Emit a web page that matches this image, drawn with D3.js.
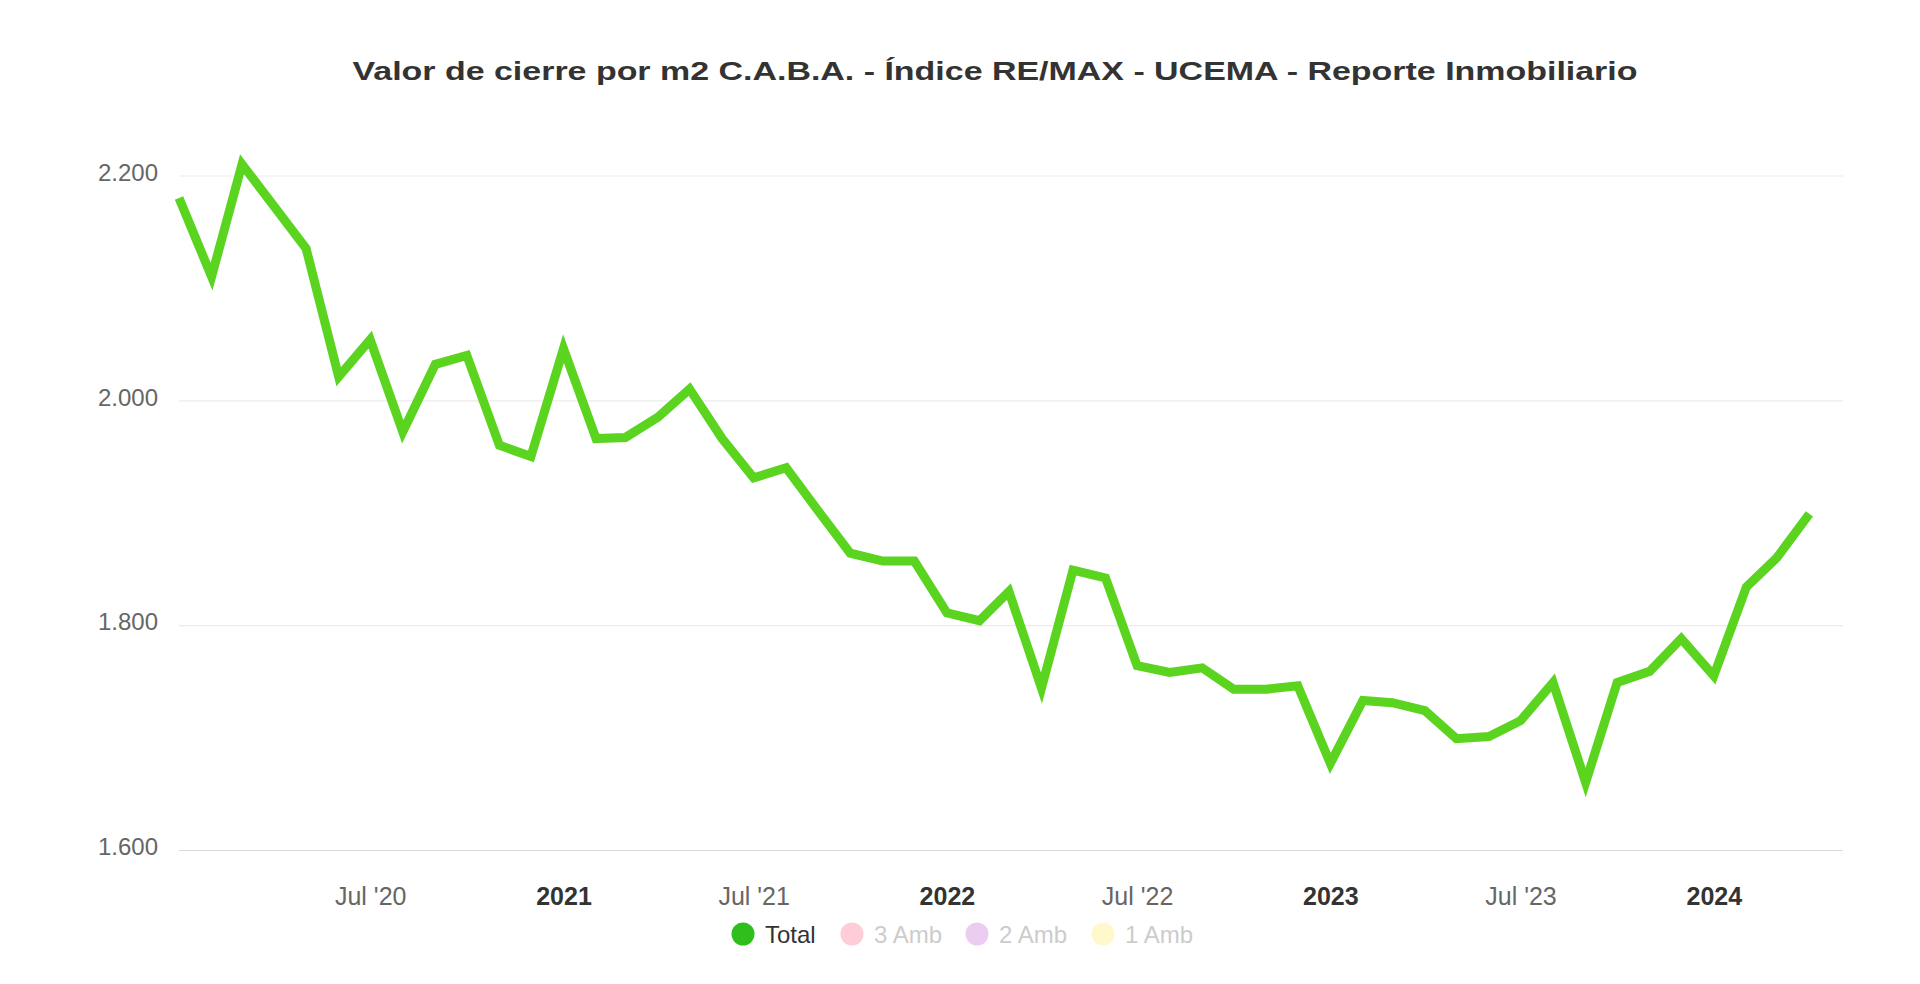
<!DOCTYPE html>
<html><head><meta charset="utf-8">
<script src="https://cdn.jsdelivr.net/npm/d3@7"></script>
<style>html,body{margin:0;padding:0;background:#fff;} svg{display:block;font-family:"Liberation Sans",Arial,sans-serif;}</style>
</head><body><svg id="chart" width="1920" height="984"></svg>
<script>
const chartTitle = "Valor de cierre por m2 C.A.B.A. - Índice RE/MAX - UCEMA - Reporte Inmobiliario";
const months = [
 "2020-01","2020-02","2020-03","2020-04","2020-05","2020-06","2020-07","2020-08","2020-09","2020-10","2020-11","2020-12",
 "2021-01","2021-02","2021-03","2021-04","2021-05","2021-06","2021-07","2021-08","2021-09","2021-10","2021-11","2021-12",
 "2022-01","2022-02","2022-03","2022-04","2022-05","2022-06","2022-07","2022-08","2022-09","2022-10","2022-11","2022-12",
 "2023-01","2023-02","2023-03","2023-04","2023-05","2023-06","2023-07","2023-08","2023-09","2023-10","2023-11","2023-12",
 "2024-01","2024-02","2024-03","2024-04"];
const totalValues = [
 2180,2110,2210,2172,2135,2021,2054,1972,2032,2040,1960,1950,
 2046,1966,1967,1985,2010,1966,1931,1940,1901,1864,1857,1857,
 1811,1804,1830,1744,1849,1842,1764,1758,1762,1743,1743,1746,
 1677,1733,1731,1724,1699,1701,1715,1749,1660,1749,1759,1788,
 1755,1834,1860,1899];
const yTicks = [1600,1800,2000,2200];
const xTickDates = ["2020-07","2021-01","2021-07","2022-01","2022-07","2023-01","2023-07","2024-01"];
const xTickLabels = ["Jul '20","2021","Jul '21","2022","Jul '22","2023","Jul '23","2024"];
const xTickBold = [false,true,false,true,false,true,false,true];
const xDomain = ["2020-01-01","2024-05-03"];
const legendNames = ["Total","3 Amb","2 Amb","1 Amb"];
const legendColors = ["#2fbf1c","#ffcdd8","#ebcdf1","#fff8cc"];
const legendActive = [true,false,false,false];

(function(){
const parseMonth = d3.timeParse("%Y-%m");
const parseDay = d3.timeParse("%Y-%m-%d");
const data = months.map((m,i)=>({date:parseMonth(m), value:totalValues[i]}));

const svg = d3.select("#chart");
const pl = 179, pr = 1843, pt = 175.5, pb = 850;

const x = d3.scaleTime().domain(xDomain.map(parseDay)).range([pl, pr]);
const y = d3.scaleLinear().domain([1600,2200]).range([pb, pt]);

const loc = d3.formatLocale({decimal:",", thousands:".", grouping:[3], currency:["$",""]});
const fmt = loc.format(",");

// title
svg.append("text").attr("x", 995).attr("y", 80).attr("text-anchor","middle")
  .attr("font-size", 26).attr("font-weight","bold").attr("fill","#333")
  .attr("textLength", 1285).attr("lengthAdjust","spacingAndGlyphs")
  .text(chartTitle);

// gridlines + y labels
const yAxis = d3.axisLeft(y).tickValues(yTicks).tickSize(-(pr-pl)).tickFormat(fmt).tickPadding(21);
const gy = svg.append("g").attr("transform", `translate(${pl},0)`).call(yAxis);
gy.select(".domain").remove();
gy.selectAll(".tick line").attr("stroke", d => d===1600 ? "#d9d9d9" : "#ececec").attr("stroke-width",1.2);
gy.selectAll(".tick text").attr("font-size",24).attr("fill","#666").attr("font-family","Liberation Sans, Arial, sans-serif")
  .attr("dy","0.2em");

// x axis
const xAxis = d3.axisBottom(x).tickValues(xTickDates.map(parseMonth)).tickSize(0)
  .tickFormat((d,i)=>xTickLabels[i]).tickPadding(52);
const gx = svg.append("g").attr("transform", `translate(0,${pb})`).call(xAxis);
gx.select(".domain").remove();
gx.selectAll(".tick text").attr("font-size",25).attr("font-family","Liberation Sans, Arial, sans-serif")
  .attr("font-weight",(d,i)=>xTickBold[i]?"bold":"normal")
  .attr("fill",(d,i)=>xTickBold[i]?"#333":"#666")
  .attr("dy","0.1em");

// line
const line = d3.line().x(d=>x(d.date)).y(d=>y(d.value));
svg.append("path").datum(data).attr("d", line).attr("fill","none")
  .attr("stroke","#5ad41e").attr("stroke-width",9).attr("stroke-linejoin","miter").attr("stroke-miterlimit",10);

// legend
const legendX = [743, 852, 977, 1103];
const lg = svg.append("g");
legendNames.forEach((n,i)=>{
  lg.append("circle").attr("cx", legendX[i]).attr("cy", 934).attr("r", 11.5).attr("fill", legendColors[i]);
  lg.append("text").attr("x", legendX[i]+22).attr("y", 943).attr("font-size",24)
    .attr("fill", legendActive[i] ? "#333" : "#cccccc").text(n);
});
})();
</script></body></html>
